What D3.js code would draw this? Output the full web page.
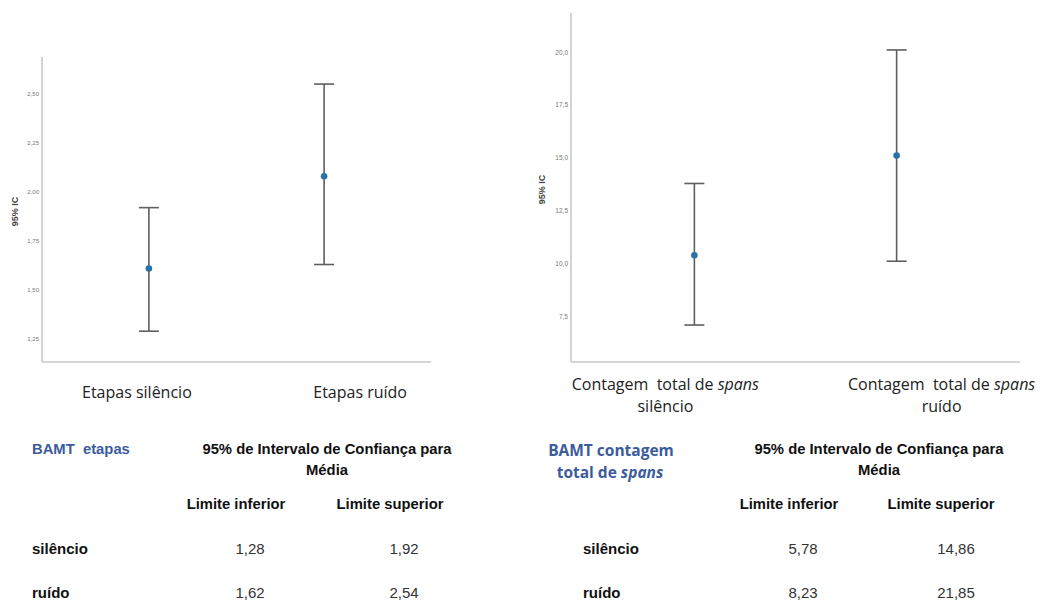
<!DOCTYPE html>
<html>
<head>
<meta charset="utf-8">
<script src="https://cdn.jsdelivr.net/npm/d3@7"></script>
<style>
  body { margin: 0; background: #fff; }
  svg { display: block; }
  text { white-space: pre; }
</style>
</head>
<body>
<div id="chart"></div>
<script>
// --- data ---
var groups = ["silêncio", "ruído"];

// left panel: BAMT etapas
var etapasLabels = ["Etapas silêncio", "Etapas ruído"];
var etapasMean = [1.61, 2.08];
var etapasLow = [1.29, 1.63];
var etapasHigh = [1.92, 2.55];
var etapasTicks = [1.25, 1.50, 1.75, 2.00, 2.25, 2.50];

// right panel: BAMT contagem total de spans
var spansLabels = ["Contagem  total de ", "Contagem  total de "];
var spansLabels2 = ["silêncio", "ruído"];
var spansMean = [10.38, 15.10];
var spansLow = [7.08, 10.10];
var spansHigh = [13.78, 20.10];
var spansTicks = [7.5, 10.0, 12.5, 15.0, 17.5, 20.0];

// tables
var tableHeader = ["95% de Intervalo de Confiança para", "Média"];
var tableCols = ["Limite inferior", "Limite superior"];
var etapasTableLow = ["1,28", "1,62"];
var etapasTableHigh = ["1,92", "2,54"];
var spansTableLow = ["5,78", "8,23"];
var spansTableHigh = ["14,86", "21,85"];

var W = 1045, H = 602;
var svg = d3.select("#chart").append("svg").attr("width", W).attr("height", H);

var fmt2 = function(v) { return d3.format(".2f")(v).replace(".", ","); };
var fmt1 = function(v) { return d3.format(".1f")(v).replace(".", ","); };

function drawPanel(cfg) {
    var x = d3.scalePoint().domain(groups).range([cfg.left, cfg.right]).padding(0.61);
    var y = d3.scaleLinear().domain(cfg.domain).range([cfg.bottom, cfg.top]);

    var g = svg.append("g");

    // axis lines
    g.append("line")
        .attr("x1", cfg.left).attr("x2", cfg.left)
        .attr("y1", cfg.top).attr("y2", cfg.bottom)
        .attr("stroke", "#c9c9c9").attr("stroke-width", 1.6);
    g.append("line")
        .attr("x1", cfg.left).attr("x2", cfg.right)
        .attr("y1", cfg.bottom).attr("y2", cfg.bottom)
        .attr("stroke", "#c9c9c9").attr("stroke-width", 1.6);

    var yAxis = d3.axisLeft(y).tickValues(cfg.ticks).tickSize(0).tickPadding(cfg.tickPad).tickFormat(cfg.fmt);
    var ya = g.append("g").attr("transform", "translate(" + cfg.left + ",0)").call(yAxis);
    ya.select(".domain").remove();
    ya.selectAll("text")
        .attr("font-family", "Liberation Sans, Arial, sans-serif")
        .attr("font-size", cfg.tickSize)
        .attr("fill", "#777");

    g.append("text")
        .attr("transform", "translate(" + cfg.ylabX + "," + y(cfg.ylabAt) + ") rotate(-90)")
        .attr("text-anchor", "middle")
        .attr("dy", "0.35em")
        .attr("font-family", "Liberation Sans, Arial, sans-serif")
        .attr("font-weight", "bold")
        .attr("font-size", cfg.ylabSize)
        .attr("fill", "#444")
        .text("95% IC");

    var rows = groups.map(function(k, i) {
        return { key: k, mean: cfg.mean[i], lo: cfg.low[i], hi: cfg.high[i] };
    });

    var bar = g.selectAll(".bar").data(rows).enter().append("g").attr("class", "bar");
    bar.append("line")
        .attr("x1", function(d) { return x(d.key); })
        .attr("x2", function(d) { return x(d.key); })
        .attr("y1", function(d) { return y(d.lo); })
        .attr("y2", function(d) { return y(d.hi); })
        .attr("stroke", "#5e5e5e").attr("stroke-width", 1.6);
    [ "lo", "hi" ].forEach(function(end) {
        bar.append("line")
            .attr("x1", function(d) { return x(d.key) - 10; })
            .attr("x2", function(d) { return x(d.key) + 10; })
            .attr("y1", function(d) { return y(d[end]); })
            .attr("y2", function(d) { return y(d[end]); })
            .attr("stroke", "#5e5e5e").attr("stroke-width", 1.6);
    });
    bar.append("circle")
        .attr("cx", function(d) { return x(d.key); })
        .attr("cy", function(d) { return y(d.mean); })
        .attr("r", 3.3)
        .attr("fill", "#2a72aa");

    return { x: x, y: y, g: g };
}

// left chart
var left = drawPanel({
    left: 42, right: 431, top: 57, bottom: 362,
    domain: [1.133, 2.688],
    ticks: etapasTicks, fmt: fmt2, tickPad: 3, tickSize: 6,
    ylabX: 15, ylabAt: 1.9, ylabSize: 9,
    mean: etapasMean, low: etapasLow, high: etapasHigh
});
left.g.selectAll(".xlab").data(etapasLabels).enter().append("text")
    .attr("x", function(d, i) { return left.x(groups[i]) + [-12, 36][i]; })
    .attr("y", 392)
    .attr("text-anchor", "middle")
    .attr("dy", "0.35em")
    .attr("font-family", "Open Sans, sans-serif")
    .attr("font-size", 16)
    .attr("fill", "#222")
    .text(function(d) { return d; });

// right chart
var right = drawPanel({
    left: 571, right: 1020, top: 13, bottom: 362,
    domain: [5.33, 21.85],
    ticks: spansTicks, fmt: fmt1, tickPad: 3, tickSize: 6.5,
    ylabX: 542, ylabAt: 13.5, ylabSize: 9,
    mean: spansMean, low: spansLow, high: spansHigh
});
var rl = right.g.selectAll(".xlab").data(spansLabels).enter().append("g")
    .attr("transform", function(d, i) {
        return "translate(" + (right.x(groups[i]) + [-29, 45][i]) + ",0)";
    });
var t1 = rl.append("text")
    .attr("y", 384)
    .attr("text-anchor", "middle")
    .attr("dy", "0.35em")
    .attr("font-family", "Open Sans, sans-serif")
    .attr("font-size", 16)
    .attr("fill", "#222");
t1.append("tspan").text(function(d) { return d; });
t1.append("tspan").attr("font-style", "italic").text("spans");
rl.append("text")
    .attr("y", 406)
    .attr("text-anchor", "middle")
    .attr("dy", "0.35em")
    .attr("font-family", "Open Sans, sans-serif")
    .attr("font-size", 16)
    .attr("fill", "#222")
    .text(function(d, i) { return spansLabels2[i]; });

// tables
function drawTable(cfg) {
    var g = svg.append("g").attr("font-family", "Liberation Sans, Arial, sans-serif").attr("fill", "#111");
    tableHeader.forEach(function(t, i) {
        g.append("text").attr("x", cfg.headX).attr("y", 449 + i * 21)
            .attr("text-anchor", "middle").attr("dy", "0.35em")
            .attr("font-weight", "bold").attr("font-size", 14.8).text(t);
    });
    tableCols.forEach(function(t, i) {
        g.append("text").attr("x", cfg.colX[i]).attr("y", 504)
            .attr("text-anchor", "middle").attr("dy", "0.35em")
            .attr("font-weight", "bold").attr("font-size", 14.8).text(t);
    });
    groups.forEach(function(k, i) {
        var yy = 549 + i * 44;
        g.append("text").attr("x", cfg.rowX).attr("y", yy).attr("dy", "0.35em")
            .attr("font-weight", "bold").attr("font-size", 15).text(k);
        g.append("text").attr("x", cfg.valX[0]).attr("y", yy).attr("dy", "0.35em")
            .attr("text-anchor", "middle").attr("font-size", 15).attr("fill", "#333").text(cfg.low[i]);
        g.append("text").attr("x", cfg.valX[1]).attr("y", yy).attr("dy", "0.35em")
            .attr("text-anchor", "middle").attr("font-size", 15).attr("fill", "#333").text(cfg.high[i]);
    });
    return g;
}

var lt = drawTable({ headX: 327, colX: [236, 390], rowX: 32, valX: [250, 404],
    low: etapasTableLow, high: etapasTableHigh });
lt.append("text").attr("x", 32).attr("y", 449).attr("dy", "0.35em")
    .attr("font-weight", "bold").attr("font-size", 14.8).attr("fill", "#3b5c9c")
    .text("BAMT  etapas");

var rt = drawTable({ headX: 879, colX: [789, 941], rowX: 583, valX: [803, 956],
    low: spansTableLow, high: spansTableHigh });
rt.append("text").attr("x", 611).attr("y", 451).attr("dy", "0.35em")
    .attr("text-anchor", "middle").attr("font-family", "Open Sans, sans-serif")
    .attr("font-weight", "bold").attr("font-size", 15.5).attr("fill", "#3b5c9c")
    .text("BAMT contagem");
var rt2 = rt.append("text").attr("x", 610).attr("y", 473).attr("dy", "0.35em")
    .attr("text-anchor", "middle").attr("font-family", "Open Sans, sans-serif")
    .attr("font-weight", "bold").attr("font-size", 15.5).attr("fill", "#3b5c9c");
rt2.append("tspan").text("total de ");
rt2.append("tspan").attr("font-style", "italic").text("spans");
</script>
</body>
</html>
